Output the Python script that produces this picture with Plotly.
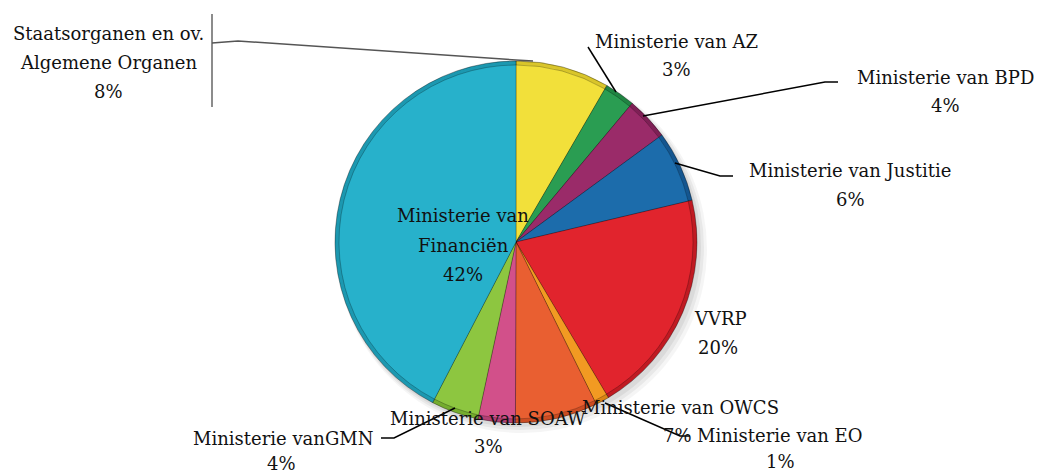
import plotly.graph_objects as go

W, H = 1041, 475

# ---- data ----
categories = [
    "Staatsorganen en ov. Algemene Organen",
    "Ministerie van AZ",
    "Ministerie van BPD",
    "Ministerie van Justitie",
    "VVRP",
    "Ministerie van EO",
    "Ministerie van OWCS",
    "Ministerie van SOAW",
    "Ministerie vanGMN",
    "Ministerie van Financiën",
]
values = [8.3, 2.7, 3.8, 6.3, 20.0, 1.2, 7.3, 3.3, 4.2, 42.0]
colors = ["#F2E03A", "#2A9D52", "#9A2B69", "#1C6CAB", "#E1242D",
          "#F29A22", "#E95F31", "#D2508A", "#8DC640", "#27B1CB"]
rim_colors = ["#D9C52A", "#1F8442", "#7E1F55", "#145690", "#C01A22",
              "#D98315", "#CC4C22", "#B43F73", "#74AC2E", "#1C98B0"]

# label lines (display text) per category
label_lines = [
    ["Staatsorganen en ov.", "Algemene Organen"],
    ["Ministerie van AZ"],
    ["Ministerie van BPD"],
    ["Ministerie van Justitie"],
    ["VVRP"],
    ["Ministerie van EO"],
    ["Ministerie van OWCS"],
    ["Ministerie van SOAW"],
    ["Ministerie vanGMN"],
    ["Ministerie van", "Financiën"],
]

# ---- layout positions (pixels, top-left origin) ----
label_pos = [  # x center, first-line y, percent x, percent y
    (108, 33, 108, 91),
    (676, 41, 676, 69),
    (945, 77, 945, 105),
    (850, 170, 850, 199),
    (720, 318, 718, 347),
    (780, 435, 780, 461),
    (680, 407, 677, 435),
    (488, 418, 488, 446),
    (283, 438, 281, 463),
    (463, 216, 463, 274),
]
LINE_H = 29

total = sum(values)
pcts = [f"{round(v / total * 100)}%" for v in values]

cx, cy, r = 516, 242, 181
r_in = r - 4

def px(x):
    return x / W

def py(y):
    return 1 - y / H

def dom(rad):
    return dict(x=[px(cx - rad), px(cx + rad)], y=[py(cy + rad), py(cy - rad)])

fig = go.Figure()
# outer rim (bevel)
fig.add_trace(go.Pie(
    labels=categories, values=values,
    marker=dict(colors=rim_colors, line=dict(color="rgba(0,0,0,0.35)", width=1)),
    sort=False, direction="clockwise", rotation=0,
    textinfo="none", hoverinfo="skip", showlegend=False,
    domain=dom(r),
))
# face
fig.add_trace(go.Pie(
    labels=categories, values=values,
    marker=dict(colors=colors, line=dict(color="rgba(0,0,0,0.25)", width=1)),
    sort=False, direction="clockwise", rotation=0,
    textinfo="none", hoverinfo="label+percent", showlegend=False,
    domain=dom(r_in),
))

font = dict(family="DejaVu Serif", size=18, color="#111111")
annotations = []
for lines, pct, (x, y0, xp, yp) in zip(label_lines, pcts, label_pos):
    for i, ln in enumerate(lines):
        annotations.append(dict(x=px(x), y=py(y0 + i * LINE_H), xref="paper", yref="paper",
                                text=ln, showarrow=False, font=font,
                                xanchor="center", yanchor="middle"))
    annotations.append(dict(x=px(xp), y=py(yp), xref="paper", yref="paper",
                            text=pct, showarrow=False, font=font,
                            xanchor="center", yanchor="middle"))

def path(points):
    return "M " + " L ".join(f"{px(a)},{py(b)}" for a, b in points)

shapes = []
# soft shadow below pie
for k, op in [(10, 0.04), (7, 0.05), (4, 0.06)]:
    shapes.append(dict(type="circle", xref="paper", yref="paper", layer="below",
                       x0=px(cx - r + 2), x1=px(cx + r + k), y0=py(cy + r + k), y1=py(cy - r + 4),
                       fillcolor=f"rgba(0,0,0,{op})", line=dict(width=0)))
leaders = [
    ([(212, 14), (212, 107)], "#666666"),
    ([(212, 43), (238, 41), (516, 60), (533, 61)], "#555555"),
    ([(588, 47), (616, 92)], "#000000"),
    ([(838, 82), (825, 82), (643, 116)], "#000000"),
    ([(675, 163), (720, 176), (733, 176)], "#000000"),
    ([(605, 403), (680, 436), (690, 436)], "#000000"),
    ([(381, 438), (394, 438), (455, 408)], "#000000"),
]
for pts, col in leaders:
    shapes.append(dict(type="path", xref="paper", yref="paper", path=path(pts),
                       line=dict(color=col, width=1.5)))

fig.update_layout(
    width=W, height=H,
    margin=dict(l=0, r=0, t=0, b=0),
    paper_bgcolor="white", plot_bgcolor="white",
    annotations=annotations,
    shapes=shapes,
)

fig.write_html("out.html", config={"displayModeBar": False},
               post_script="document.body.style.margin='0';document.body.style.overflow='hidden';")
